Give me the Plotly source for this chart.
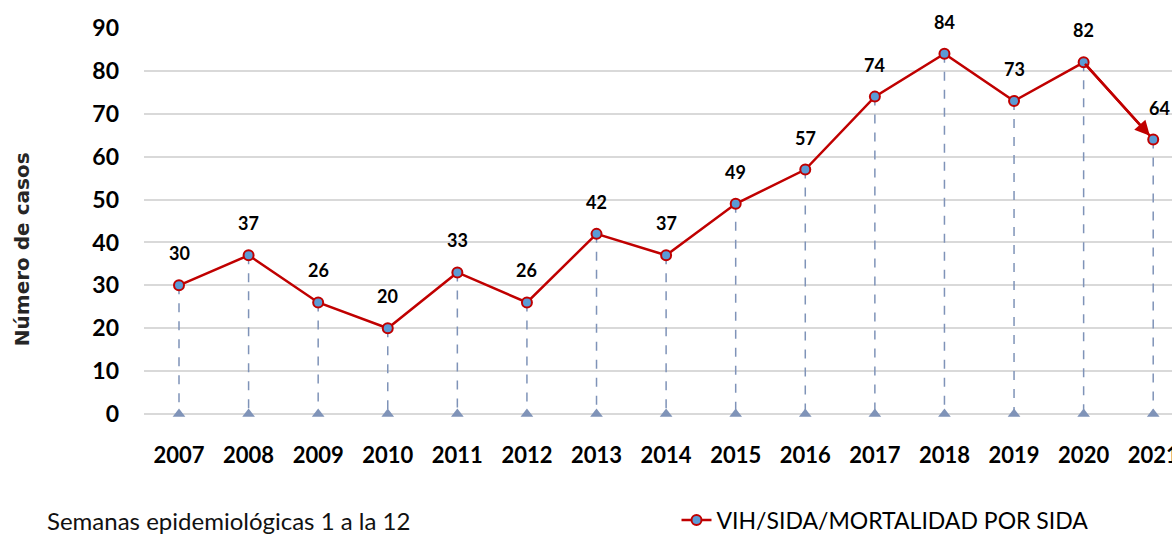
import plotly.graph_objects as go

years = [2007, 2008, 2009, 2010, 2011, 2012, 2013, 2014, 2015, 2016, 2017, 2018, 2019, 2020, 2021]
cases = [30, 37, 26, 20, 33, 26, 42, 37, 49, 57, 74, 84, 73, 82, 64]
series_name = "VIH/SIDA/MORTALIDAD POR SIDA"
y_title = "Número de casos"
note = "Semanas epidemiológicas 1 a la 12"
y_ticks = [0, 10, 20, 30, 40, 50, 60, 70, 80, 90]

FONT = "Lato, Arial"
RED = "#c00000"
DROP = "#7f93b8"

fig = go.Figure()

# dashed drop lines
dx, dy = [], []
for x, y in zip(years, cases):
    dx += [x, x, None]
    dy += [y, 0, None]
fig.add_trace(go.Scatter(x=dx, y=dy, mode="lines", line=dict(color=DROP, width=1.5, dash="dash"),
                         showlegend=False, hoverinfo="skip"))
fig.add_trace(go.Scatter(x=years, y=[0] * len(years), mode="markers",
                         marker=dict(symbol="triangle-up", size=11, color=DROP),
                         showlegend=False, hoverinfo="skip", cliponaxis=False))

fig.add_trace(go.Scatter(x=years, y=cases, mode="lines+markers", name=series_name,
                         line=dict(color=RED, width=2.5),
                         marker=dict(size=10, color="#5b9bd5", line=dict(color=RED, width=2)),
                         cliponaxis=False))

# arrow head on last segment
fig.add_annotation(x=years[-1], y=cases[-1], ax=years[-2], ay=cases[-2], axref="x", ayref="y",
                   xref="x", yref="y", text="", showarrow=True, arrowhead=2, arrowsize=1.2,
                   arrowwidth=2.5, arrowcolor=RED, standoff=5)

for x, y in zip(years, cases):
    fig.add_annotation(x=x, y=y, text=str(y), showarrow=False, yshift=32,
                       xshift=6 if x == years[-1] else 0,
                       font=dict(family=FONT, size=18, color="#000000", weight="bold"))

fig.add_annotation(xref="paper", yref="paper", x=-0.1187, y=0.427, text=y_title, textangle=-90,
                   showarrow=False, xanchor="center", yanchor="middle",
                   font=dict(family="DejaVu Sans", size=20, color="#262626", weight="bold"))
fig.add_annotation(xref="paper", yref="paper", x=-0.0963, y=-0.275, text=note,
                   showarrow=False, xanchor="left", yanchor="middle",
                   font=dict(family=FONT, size=24, color="#111111"))

fig.update_layout(
    width=1172, height=535,
    margin=dict(l=144, r=0, t=28, b=121, autoexpand=False),
    plot_bgcolor="white", paper_bgcolor="white",
    font=dict(family=FONT, color="#000000"),
    showlegend=True,
    legend=dict(orientation="h", x=0.518, y=-0.275, xanchor="left", yanchor="middle",
                font=dict(family=FONT, size=23, color="#000000"), itemwidth=30,
                bgcolor="rgba(0,0,0,0)"),
    xaxis=dict(range=[2006.497, 2021.27], tickmode="array", tickvals=years,
               ticktext=[str(y) for y in years], showgrid=False, zeroline=False,
               showline=False, ticks="", ticklabelstandoff=26, automargin=False,
               ticklabeloverflow="allow",
               tickfont=dict(family=FONT, size=22, color="#000000", weight="bold")),
    yaxis=dict(range=[0, 90], tickmode="array", tickvals=y_ticks, showgrid=True,
               gridcolor="#d9d9d9", gridwidth=2, zeroline=True, zerolinecolor="#d9d9d9",
               zerolinewidth=2, showline=False, ticks="", ticklabelstandoff=24, automargin=False,
               tickfont=dict(family=FONT, size=23, color="#000000", weight="bold")),
)

fig.write_html("out.html", config={"displayModeBar": False},
               post_script="document.body.style.margin='0';document.body.style.overflow='hidden';")
